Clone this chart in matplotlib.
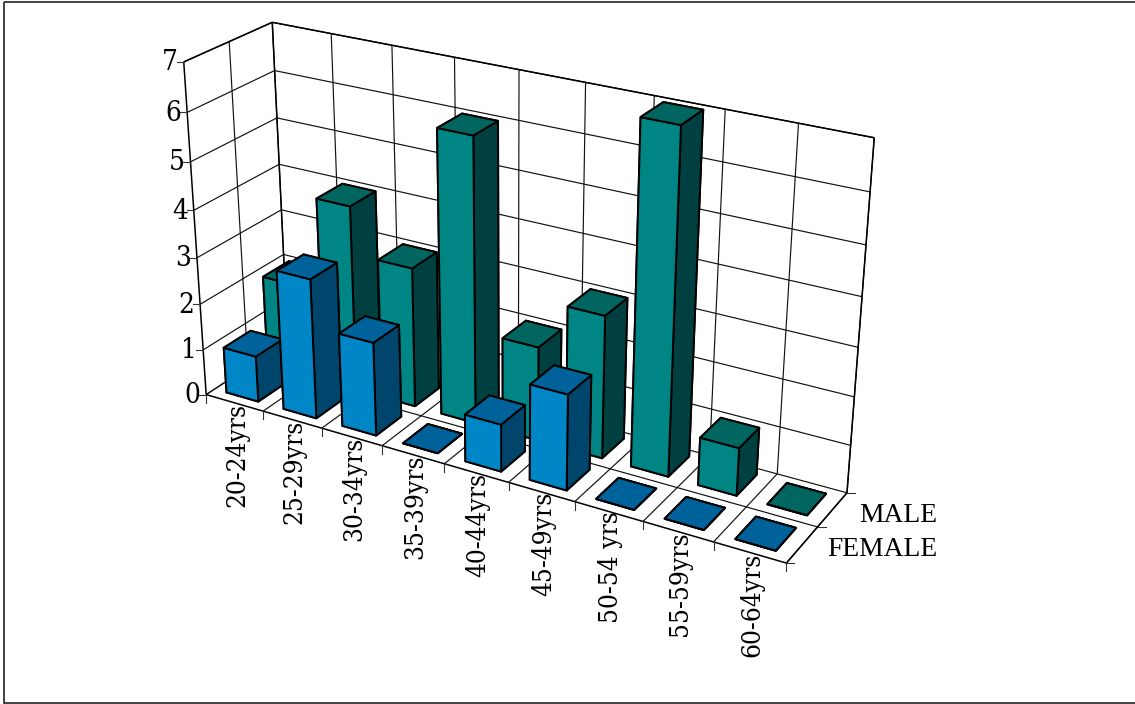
import numpy as np
import matplotlib
matplotlib.use("Agg")
import matplotlib.pyplot as plt
from matplotlib.lines import Line2D
from matplotlib.patches import Rectangle
from matplotlib.transforms import Affine2D
from mpl_toolkits.mplot3d.art3d import Line3DCollection

# Survey counts by age band
age_bands = ["20-24yrs", "25-29yrs", "30-34yrs", "35-39yrs", "40-44yrs",
             "45-49yrs", "50-54 yrs", "55-59yrs", "60-64yrs"]
male = [2, 4, 3, 6, 2, 3, 7, 1, 0]
female = [1, 3, 2, 0, 1, 2, 0, 0, 0]
series_names = ["FEMALE", "MALE"]
z_ticks = list(range(8))

# Face colours: (front, top, side)
female_faces = ("#0085C6", "#00629A", "#00456C")
male_faces = ("#008585", "#00665F", "#004040")

W, H = 1135, 704
plt.rcParams["font.family"] = ["Liberation Serif", "DejaVu Serif"]
label_font = dict(family="DejaVu Serif", stretch="condensed", fontsize=18.8, color="black")
value_font = dict(family="DejaVu Serif", stretch="condensed", fontsize=20, color="black")
legend_font = dict(family="Liberation Serif", fontsize=19.8, color="black")
EDGE = "#000000"

# Box corners (x, depth, z) and where the oblique view places them on the canvas
box_points = np.array([(0, 0, 0), (0, 0, 7), (0, 2, 7), (0, 2, 0),
                       (9, 2, 7), (9, 2, 0), (9, 0, 0)], float)
canvas_points = np.array([(206, 394), (184.3, 61.7), (271.7, 22.3), (288, 342),
                          (874.3, 138), (847.3, 491.7), (786, 564)], float)


def solve_camera(world, image):
    """Direct linear fit of a 3x4 projective camera."""
    rows = []
    for (x, y, z), (u, v) in zip(world, image):
        rows.append([x, y, z, 1, 0, 0, 0, 0, -u*x, -u*y, -u*z, -u])
        rows.append([0, 0, 0, 0, x, y, z, 1, -v*x, -v*y, -v*z, -v])
    cam = np.linalg.svd(np.array(rows))[2][-1].reshape(3, 4)
    if cam[2] @ np.array([0, 0, 0, 1.0]) < 0:
        cam = -cam
    return cam / cam[2, 3]


camera = solve_camera(box_points, canvas_points)


def to_canvas(x, y, z):
    u, v, w = camera @ np.array([x, y, z, 1.0])
    return u / w, v / w


fig = plt.figure(figsize=(W / 100, H / 100), dpi=100, facecolor="white")
canvas = Affine2D().scale(1 / W, -1 / H).translate(0, 1) + fig.transFigure

ax = fig.add_axes([0, 0, 1, 1], projection="3d", computed_zorder=False)
ax.apply_aspect = lambda position=None: None
ax.set_axis_off()


def oblique_proj():
    a = (canvas + ax.transData.inverted()).get_affine().get_matrix()
    lift = np.array([[a[0, 0], a[0, 1], 0, a[0, 2]],
                     [a[1, 0], a[1, 1], 0, a[1, 2]],
                     [0, 0, 1, 0],
                     [0, 0, 0, 1.0]])
    full = np.vstack([camera[0], camera[1], [-1, 1, -1, 0], camera[2]])
    return lift @ full


ax.get_proj = oblique_proj

# Walls and floor grid
n = len(age_bands)
top = z_ticks[-1]
grid_segments = []
for z in z_ticks:
    grid_segments.append([(0, 0, z), (0, 2, z)])
    grid_segments.append([(0, 2, z), (n, 2, z)])
for i in range(n + 1):
    grid_segments.append([(i, 0, 0), (i, 2, 0)])
    grid_segments.append([(i, 2, 0), (i, 2, top)])
grid_segments.append([(0, 1, 0), (n, 1, 0)])
grid_segments.append([(0, 1, 0), (0, 1, top)])
ax.add_collection3d(Line3DCollection(grid_segments, colors="#111111",
                                     linewidths=0.85, zorder=1))

frame_segments = [
    [(0, 0, 0), (0, 0, top)], [(0, 2, 0), (0, 2, top)], [(n, 2, 0), (n, 2, top)],
    [(0, 0, top), (0, 2, top)], [(0, 2, top), (n, 2, top)],
    [(0, 0, 0), (n, 0, 0)], [(n, 0, 0), (n, 2, 0)],
]
ax.add_collection3d(Line3DCollection(frame_segments, colors="black",
                                     linewidths=1.1, zorder=1.5))


# Cuboids, back row first and left to right so nearer bars overlap
def add_bars(values, row, faces, base_z):
    front, top_c, side = faces
    # bar3d face order: -z, +z, -y, +y, -x, +x
    colours = [top_c, top_c, front, side, side, side]
    for i, v in enumerate(values):
        ax.bar3d(i + 0.21, row + 0.2, 0, 0.56, 0.64, v, color=colours,
                 edgecolor=EDGE, linewidth=1.4, shade=False,
                 zorder=base_z + i)


add_bars(male, 1, male_faces, 10)
add_bars(female, 0, female_faces, 30)


# Tick marks and labels, placed from the projected axis positions
def tick(p, dx, dy):
    fig.add_artist(Line2D([p[0], p[0] + dx], [p[1], p[1] + dy], transform=canvas,
                          color="#333333", lw=0.8))


for z in z_ticks:
    p = to_canvas(0, 0, z)
    tick(p, -7, 0)
    fig.text(p[0] - 6, p[1] + 1, str(z), transform=canvas, ha="right", va="center",
             **value_font)
for i in range(n + 1):
    tick(to_canvas(i, 0, 0), 0, 8)
for y in (0, 1, 2):
    tick(to_canvas(n, y, 0), 8, 0)
for i, label in enumerate(age_bands):
    p = to_canvas(i + 0.5, 0, 0)
    fig.text(p[0] + 2, p[1], label, transform=canvas, rotation=90,
             ha="center", va="top", **label_font)

fig.text(937, 515, series_names[1], transform=canvas, ha="right", va="center",
         **legend_font)
fig.text(937, 550, series_names[0], transform=canvas, ha="right", va="center",
         **legend_font)

# Outer border of the figure
fig.add_artist(Rectangle((3.5, 2), W + 5, 701, transform=canvas, fill=False,
                         edgecolor="#222222", lw=1.2))

fig.savefig("out.png", dpi=100, facecolor="white")
